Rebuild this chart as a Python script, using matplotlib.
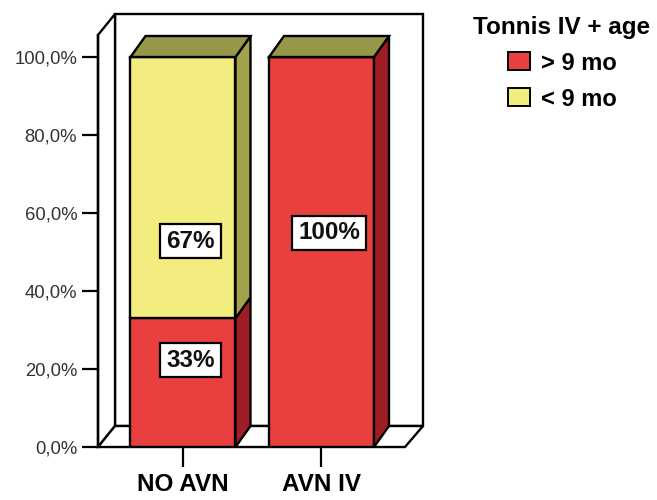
import matplotlib
matplotlib.use('Agg')
import matplotlib.pyplot as plt
from matplotlib.patches import Polygon, Patch

plt.rcParams['font.family'] = ['Liberation Sans', 'DejaVu Sans']

# data
groups = ['NO AVN', 'AVN IV']
over_9mo = [33, 100]
under_9mo = [67, 0]
pct_labels = [['33%', '67%'], ['100%', None]]
legend_title = 'Tonnis IV + age'
series_names = ['> 9 mo', '< 9 mo']
yticks = [0, 20, 40, 60, 80, 100]

red = '#e8403f'
red_side = '#a01d26'
yellow = '#f3ec7e'
olive_side = '#a2a24c'
olive_top = '#97974a'

W, H = 657, 500
fig = plt.figure(figsize=(W / 100, H / 100), dpi=100)

# pixel geometry of the plot box
px_left, px_right, px_zero, px_top = 98, 423, 447, 14
px_per_pct = 3.9
px_per_cat = 138.5
x0 = 183  # pixel centre of first category

ax = fig.add_axes([px_left / W, (H - px_zero) / H,
                   (px_right - px_left) / W, (px_zero - px_top) / H])
xmin = -(x0 - px_left) / px_per_cat
xmax = xmin + (px_right - px_left) / px_per_cat
ytop = (px_zero - px_top) / px_per_pct
ax.set_xlim(xmin, xmax)
ax.set_ylim(0, ytop)

# depth offsets (walls and bars)
wdx, wdy = 17 / px_per_cat, 21 / px_per_pct
bdx, bdy = 15 / px_per_cat, 21 / px_per_pct
floor_right = xmin + (405 - px_left) / px_per_cat

lw = 1.7
# back wall, left wall, floor
ax.add_patch(Polygon([(xmin + wdx, wdy), (xmax, wdy), (xmax, ytop), (xmin + wdx, ytop)],
                     closed=True, fc='white', ec='black', lw=lw, zorder=1, clip_on=False))
ax.add_patch(Polygon([(xmin, 0), (xmin + wdx, wdy), (xmin + wdx, ytop), (xmin, ytop - wdy)],
                     closed=True, fc='white', ec='black', lw=lw, zorder=1, clip_on=False))
ax.add_patch(Polygon([(xmin, 0), (floor_right, 0), (xmax, wdy), (xmin + wdx, wdy)],
                     closed=True, fc='white', ec='black', lw=lw, zorder=1, clip_on=False))

x = list(range(len(groups)))
bw = 105 / px_per_cat

ax.bar(x, over_9mo, bw, color=red, edgecolor='black', lw=lw, zorder=3)
ax.bar(x, under_9mo, bw, bottom=over_9mo, color=yellow, edgecolor='black', lw=lw, zorder=3)

for i in x:
    r = x[i] + bw / 2
    l = x[i] - bw / 2
    segs = [(0, over_9mo[i], red_side), (over_9mo[i], under_9mo[i], olive_side)]
    for b, h, c in segs:
        if h <= 0:
            continue
        ax.add_patch(Polygon([(r, b), (r + bdx, b + bdy), (r + bdx, b + h + bdy), (r, b + h)],
                             closed=True, fc=c, ec='black', lw=lw, zorder=3))
    top = over_9mo[i] + under_9mo[i]
    ax.add_patch(Polygon([(l, top), (l + bdx, top + bdy), (r + bdx, top + bdy), (r, top)],
                         closed=True, fc=olive_top, ec='black', lw=lw, zorder=3))

# value labels
label_y = [[22.3, 52.8], [54.9, None]]
box = dict(boxstyle='square,pad=0.24', fc='white', ec='black', lw=1.6)
for i in x:
    for j in range(2):
        if pct_labels[i][j] is None:
            continue
        ax.text(x[i] + bdx / 2, label_y[i][j], pct_labels[i][j], ha='center', va='center',
                fontsize=17.5, fontweight='bold', color='#111111', bbox=box, zorder=5)

# axes
for s in ['top', 'right', 'bottom']:
    ax.spines[s].set_visible(False)
ax.spines['left'].set_linewidth(lw)
ax.spines['left'].set_bounds(0, ytop - wdy)
ax.set_yticks(yticks)
ax.set_yticklabels([f'{v:.1f}%'.replace('.', ',') for v in yticks])
ax.tick_params(axis='y', length=11.5, width=1.6, pad=3.5, labelsize=13.3, labelcolor='#333333')
ax.set_xticks(x)
ax.set_xticklabels(groups, fontsize=17.5, fontweight='bold')
ax.tick_params(axis='x', length=14.5, width=1.6, pad=4.5)

handles = [Patch(fc=red, ec='black', lw=1.4), Patch(fc=yellow, ec='black', lw=1.4)]
fig.legend(handles, series_names, title=legend_title, loc='upper center',
           bbox_to_anchor=(562 / W, 1 + 1 / H), frameon=False,
           prop={'weight': 'bold', 'size': 17},
           title_fontproperties={'weight': 'bold', 'size': 17.5},
           handlelength=0.95, handleheight=0.8, handletextpad=0.45, labelspacing=0.55,
           borderpad=0.2)

fig.savefig('out.png', dpi=100)
